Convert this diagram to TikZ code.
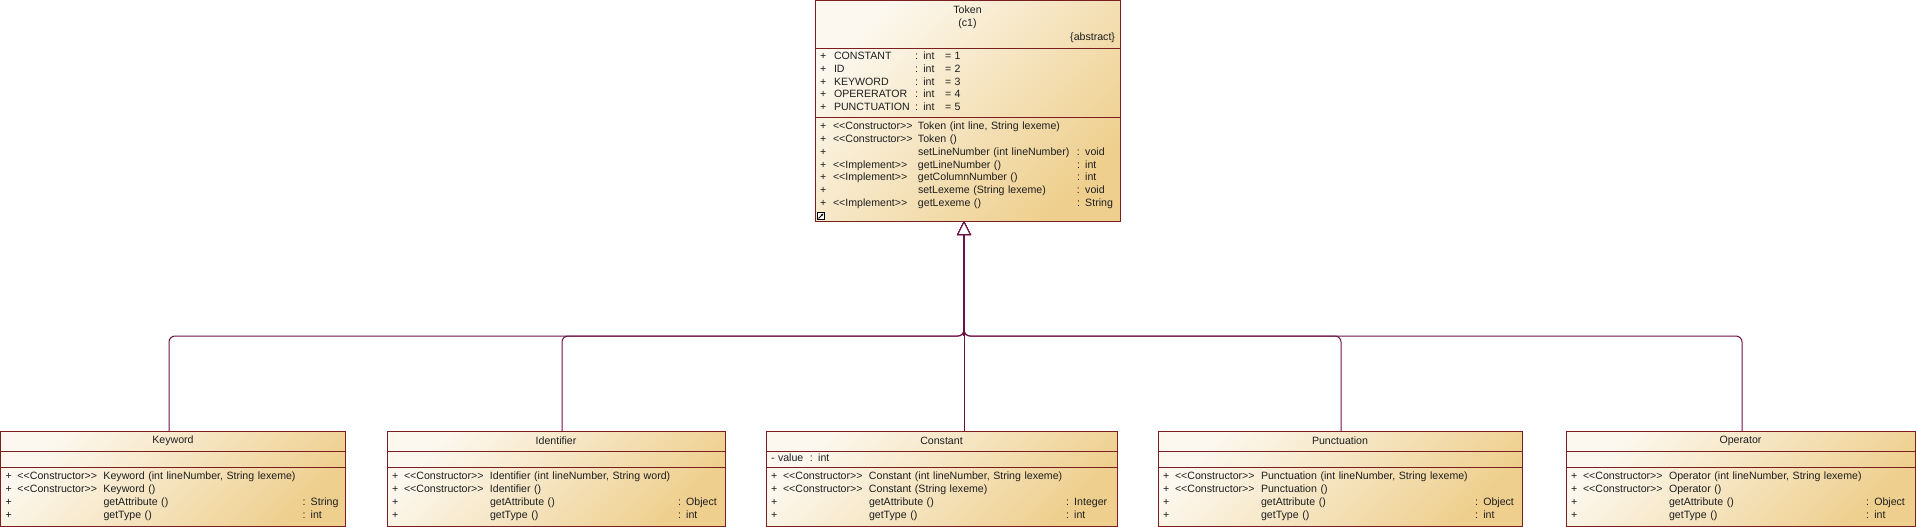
\documentclass[tikz,border=0pt]{standalone}
\usepackage{fontspec}
\newfontfamily\umlfont{Liberation Sans}
\usepackage{tikz}
\usetikzlibrary{arrows.meta, positioning, backgrounds, fit}
\definecolor{clsborder}{HTML}{7A1E1E}
\definecolor{clspale}{HTML}{FCF8EF}
\definecolor{clstan}{HTML}{EECF8E}
\definecolor{genline}{HTML}{6B1145}
\definecolor{clstext}{HTML}{1E1E1E}
\newcommand{\stereo}[1]{<\kern0pt<#1>\kern0pt>}
\tikzset{%
	compart/.style={draw=clsborder, line width=0.9pt, rectangle, inner xsep=5pt, inner ysep=0pt,%
		outer sep=0pt, text=clstext, font=\umlfont\fontsize{10.6}{12.7}\selectfont},
	cname/.style={compart, align=center, font=\umlfont\fontsize{10.6}{13.5}\selectfont},
	cbody/.style={compart, align=left},
	clsbg/.style={inner sep=0pt, top color=clspale, bottom color=clstan, shading angle=45},
	gen/.style={draw=genline, line width=1pt, rounded corners=6pt,%
		-{Triangle[length=14pt, width=14pt, fill=white]}},
	trunk/.style={draw=genline, line width=2pt},
	linkbox/.style={draw=black, fill=white, line width=0.6pt, minimum size=7pt, inner sep=0pt}
}

\begin{document}
\begin{tikzpicture}[x=1pt, y=1pt]
	\useasboundingbox (0,0) rectangle (1916,-527);

	%base class
	\node[cname, text width=295pt, minimum height=47.5pt, anchor=north] (tok-name) at (967.5,-0.5)
		{Token\\(c1)\\\mbox{}\hfill\{abstract\}};
	\node[cbody, text width=295pt, minimum height=69pt, below=0pt of tok-name] (tok-attr) {%
		\begin{tabular}{@{}p{14pt}@{}p{81pt}@{}p{30pt}@{}l@{}}
		+ & CONSTANT & : int & = 1\\
		+ & ID & : int & = 2\\
		+ & KEYWORD & : int & = 3\\
		+ & OPERERATOR & : int & = 4\\
		+ & PUNCTUATION & : int & = 5
		\end{tabular}};
	\node[cbody, text width=295pt, minimum height=104pt, below=0pt of tok-attr] (tok-ops) {%
		\begin{tabular}{@{}p{13pt}@{}p{85pt}@{}p{159pt}@{}l@{}}
		+ & \stereo{Constructor} & Token (int line, String lexeme) & \\
		+ & \stereo{Constructor} & Token () & \\
		+ & & setLineNumber (int lineNumber) & : void\\
		+ & \stereo{Implement} & getLineNumber () & : int\\
		+ & \stereo{Implement} & getColumnNumber () & : int\\
		+ & & setLexeme (String lexeme) & : void\\
		+ & \stereo{Implement} & getLexeme () & : String\\[7pt]
		\end{tabular}};
	\node[linkbox, above right=1pt and 2pt of tok-ops.south west] (tok-link) {};
	\draw[-{Stealth[length=2.5pt, width=2.5pt]}, line width=0.8pt]
		([shift={(1.5pt,1.5pt)}]tok-link.south west) -- ([shift={(-1.2pt,-1.2pt)}]tok-link.north east);

	%subclasses
	\node[cname, text width=335pt, minimum height=20pt, anchor=north west] (kw-name) at (0.5,-431) {Keyword};
	\node[cbody, text width=335pt, minimum height=16pt, below=0pt of kw-name] (kw-attr) {};
	\node[cbody, text width=335pt, minimum height=59pt, below=0pt of kw-attr] (kw-ops) {%
		\begin{tabular}{@{}p{12pt}@{}p{86pt}@{}p{199pt}@{}l@{}}
		+ & \stereo{Constructor} & Keyword (int lineNumber, String lexeme) & \\
		+ & \stereo{Constructor} & Keyword () & \\
		+ & & getAttribute () & : String\\
		+ & & getType () & : int
		\end{tabular}};

	\node[cname, text width=328pt, minimum height=20pt, right=41.5pt of kw-name] (id-name) {Identifier};
	\node[cbody, text width=328pt, minimum height=16pt, below=0pt of id-name] (id-attr) {};
	\node[cbody, text width=328pt, minimum height=59pt, below=0pt of id-attr] (id-ops) {%
		\begin{tabular}{@{}p{12pt}@{}p{86pt}@{}p{188pt}@{}l@{}}
		+ & \stereo{Constructor} & Identifier (int lineNumber, String word) & \\
		+ & \stereo{Constructor} & Identifier () & \\
		+ & & getAttribute () & : Object\\
		+ & & getType () & : int
		\end{tabular}};

	\node[cname, text width=341pt, minimum height=20pt, right=41pt of id-name] (con-name) {Constant};
	\node[cbody, text width=341pt, minimum height=16pt, below=0pt of con-name] (con-attr) {%
		\begin{tabular}{@{}p{7pt}@{}p{32pt}@{}l@{}}
		- & value & : int
		\end{tabular}};
	\node[cbody, text width=341pt, minimum height=59pt, below=0pt of con-attr] (con-ops) {%
		\begin{tabular}{@{}p{12pt}@{}p{86pt}@{}p{197pt}@{}l@{}}
		+ & \stereo{Constructor} & Constant (int lineNumber, String lexeme) & \\
		+ & \stereo{Constructor} & Constant (String lexeme) & \\
		+ & & getAttribute () & : Integer\\
		+ & & getType () & : int
		\end{tabular}};

	\node[cname, text width=354pt, minimum height=20pt, right=41pt of con-name] (pun-name) {Punctuation};
	\node[cbody, text width=354pt, minimum height=16pt, below=0pt of pun-name] (pun-attr) {};
	\node[cbody, text width=354pt, minimum height=59pt, below=0pt of pun-attr] (pun-ops) {%
		\begin{tabular}{@{}p{12pt}@{}p{86pt}@{}p{214pt}@{}l@{}}
		+ & \stereo{Constructor} & Punctuation (int lineNumber, String lexeme) & \\
		+ & \stereo{Constructor} & Punctuation () & \\
		+ & & getAttribute () & : Object\\
		+ & & getType () & : int
		\end{tabular}};

	\node[cname, text width=339pt, minimum height=20pt, right=44pt of pun-name] (op-name) {Operator};
	\node[cbody, text width=339pt, minimum height=16pt, below=0pt of op-name] (op-attr) {};
	\node[cbody, text width=339pt, minimum height=59pt, below=0pt of op-attr] (op-ops) {%
		\begin{tabular}{@{}p{12pt}@{}p{86pt}@{}p{197pt}@{}l@{}}
		+ & \stereo{Constructor} & Operator (int lineNumber, String lexeme) & \\
		+ & \stereo{Constructor} & Operator () & \\
		+ & & getAttribute () & : Object\\
		+ & & getType () & : int
		\end{tabular}};

	%shading behind the classes
	\begin{scope}[on background layer]
		\node[clsbg, fit=(tok-name)(tok-ops)] (tok) {};
		\node[clsbg, fit=(kw-name)(kw-ops)] (kw) {};
		\node[clsbg, fit=(id-name)(id-ops)] (id) {};
		\node[clsbg, fit=(con-name)(con-ops)] (con) {};
		\node[clsbg, fit=(pun-name)(pun-ops)] (pun) {};
		\node[clsbg, fit=(op-name)(op-ops)] (op) {};
	\end{scope}

	%generalizations
	\coordinate (hub) at (964,-336);
	\coordinate (tip) at (tok-ops.south -| hub);
	\draw[trunk] (hub) -- (tip);
	\draw[gen] ([xshift=-4pt]kw-name.north) |- (hub) -- (tip);
	\draw[gen] ([xshift=6pt]id-name.north) |- (hub) -- (tip);
	\draw[gen] (con-name.north -| hub) -- (tip);
	\draw[gen] ([xshift=1pt]pun-name.north) |- (hub) -- (tip);
	\draw[gen] ([xshift=1.5pt]op-name.north) |- (hub) -- (tip);

\end{tikzpicture}
\end{document}
